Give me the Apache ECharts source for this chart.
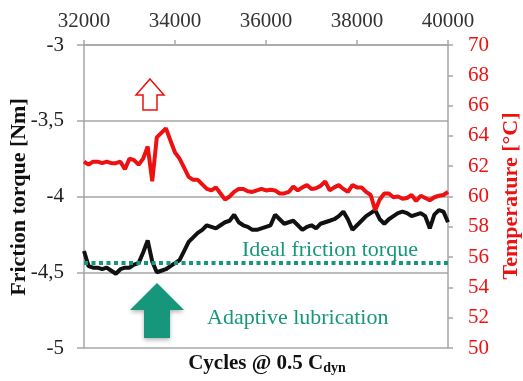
<!DOCTYPE html>
<html><head><meta charset="utf-8">
<script src="https://cdn.jsdelivr.net/npm/echarts@6/dist/echarts.min.js"></script>
<style>html,body{margin:0;padding:0;background:#fff}#c{width:523px;height:381px}</style>
</head><body><div id="c"></div>
<script>
var cycles = [];
for (var c = 32000; c <= 40000; c += 100) cycles.push(c);

var torque = [
 -4.36,-4.46,-4.47,-4.47,-4.48,-4.47,-4.49,-4.51,-4.48,-4.47,
 -4.47,-4.45,-4.44,-4.37,-4.29,-4.43,-4.50,-4.49,-4.48,-4.46,
 -4.44,-4.42,-4.36,-4.30,-4.27,-4.24,-4.22,-4.19,-4.20,-4.21,
 -4.19,-4.17,-4.16,-4.12,-4.17,-4.19,-4.20,-4.22,-4.22,-4.21,
 -4.20,-4.19,-4.12,-4.15,-4.18,-4.17,-4.16,-4.19,-4.22,-4.20,
 -4.19,-4.21,-4.18,-4.17,-4.16,-4.15,-4.13,-4.10,-4.15,-4.22,
 -4.19,-4.16,-4.13,-4.11,-4.09,-4.15,-4.18,-4.15,-4.13,-4.11,
 -4.10,-4.11,-4.13,-4.12,-4.11,-4.13,-4.21,-4.12,-4.09,-4.10,
 -4.17
];

var temperature = [
 62.3,62.1,62.3,62.3,62.2,62.3,62.2,62.2,62.3,61.8,
 62.5,62.4,62.1,62.5,63.3,61.0,63.9,64.2,64.5,63.7,
 62.9,62.5,61.9,61.3,61.1,61.1,60.8,60.5,60.4,60.6,
 60.2,59.8,60.0,60.3,60.5,60.5,60.35,60.3,60.4,60.5,
 60.4,60.45,60.4,60.2,60.2,60.3,60.65,60.4,60.6,60.75,
 60.5,60.55,60.7,61.0,60.4,60.6,60.75,60.5,60.3,60.75,
 60.6,60.6,60.3,60.1,59.1,59.8,60.2,60.2,59.95,60.0,
 59.85,59.9,60.1,59.7,60.05,59.9,59.75,59.95,60.05,60.1,
 60.3
];

var idealTorque = -4.44;
var xTicks = [32000, 34000, 36000, 38000, 40000];
var torqueTicks = [-5, -4.5, -4, -3.5, -3];
var tempTicks = [50, 52, 54, 56, 58, 60, 62, 64, 66, 68, 70];

function pairs(xs, ys) { return xs.map(function (x, i) { return [x, ys[i]]; }); }

var SERIF = 'Liberation Serif';
var TEAL = '#16977b';
var RED = '#ee1111';
var GRAY = '#a6a6a6';

var chart = echarts.init(document.getElementById('c'), null, {renderer: 'canvas'});
chart.setOption({
  animation: false,
  backgroundColor: '#fff',
  grid: {left: 84, right: 75, top: 45, bottom: 33},
  xAxis: {
    type: 'value', position: 'top',
    min: xTicks[0], max: xTicks[xTicks.length - 1], interval: 2000,
    axisLine: {show: true, lineStyle: {color: GRAY, width: 1.5}},
    axisTick: {show: true, inside: false, length: 5, lineStyle: {color: GRAY, width: 1.5}},
    axisLabel: {fontFamily: SERIF, fontSize: 21, color: '#333', margin: 13,
      formatter: function (v) { return String(v); }},
    splitLine: {show: false}
  },
  yAxis: [{
    type: 'value', position: 'left',
    min: torqueTicks[0], max: torqueTicks[torqueTicks.length - 1], interval: 0.5,
    axisLine: {show: true, lineStyle: {color: GRAY, width: 1.5}},
    axisTick: {show: true, length: 7, lineStyle: {color: GRAY, width: 1.5}},
    axisLabel: {fontFamily: SERIF, fontSize: 21, color: '#222', margin: 20,
      formatter: function (v) { return String(v).replace('.', ','); }},
    splitLine: {show: true, lineStyle: {color: GRAY, width: 1.5}}
  }, {
    type: 'value', position: 'right',
    min: tempTicks[0], max: tempTicks[tempTicks.length - 1], interval: 2,
    axisLine: {show: true, lineStyle: {color: GRAY, width: 1.5}},
    axisTick: {show: true, length: 5, lineStyle: {color: GRAY, width: 1.5}},
    axisLabel: {fontFamily: SERIF, fontSize: 21, color: RED, margin: 20},
    splitLine: {show: false}
  }],
  series: [{
    name: 'Friction torque', type: 'line', yAxisIndex: 0,
    data: pairs(cycles, torque), showSymbol: false, symbol: 'none',
    lineStyle: {color: '#111', width: 4}, z: 3,
    markLine: {
      silent: true, symbol: ['none', 'none'], label: {show: false},
      lineStyle: {color: TEAL, width: 4, type: [4, 3.5]},
      data: [{yAxis: idealTorque}]
    }
  }, {
    name: 'Temperature', type: 'line', yAxisIndex: 1,
    data: pairs(cycles, temperature), showSymbol: false, symbol: 'none',
    lineStyle: {color: RED, width: 4}, z: 4
  }],
  graphic: [
    {type: 'text', x: 19, y: 197, rotation: Math.PI / 2,
     style: {text: 'Friction torque [Nm]', fontFamily: SERIF, fontSize: 22, fontWeight: 'bold', fill: '#111', align: 'center', verticalAlign: 'middle'}},
    {type: 'text', x: 511, y: 196, rotation: Math.PI / 2,
     style: {text: 'Temperature [°C]', fontFamily: SERIF, fontSize: 22, fontWeight: 'bold', fill: RED, align: 'center', verticalAlign: 'middle'}},
    {type: 'text', x: 267, y: 364,
     style: {text: '{a|Cycles @ 0.5 C}{b|dyn}', align: 'center', verticalAlign: 'middle',
       rich: {a: {fontFamily: SERIF, fontSize: 21, fontWeight: 'bold', fill: '#111'},
              b: {fontFamily: SERIF, fontSize: 14, fontWeight: 'bold', fill: '#111', padding: [9, 0, 0, 0]}}}},
    {type: 'text', x: 242, y: 250,
     style: {text: 'Ideal friction torque', fontFamily: SERIF, fontSize: 22, fill: TEAL, align: 'left', verticalAlign: 'middle'}},
    {type: 'text', x: 207, y: 318,
     style: {text: 'Adaptive lubrication', fontFamily: SERIF, fontSize: 22, fill: TEAL, align: 'left', verticalAlign: 'middle'}},
    {type: 'polygon', shape: {points: [[150, 79], [164, 95], [157, 95], [157, 110], [143, 110], [143, 95], [136, 95]]},
     style: {fill: '#fff', stroke: RED, lineWidth: 1.5}},
    {type: 'polygon', shape: {points: [[157, 283], [184, 310], [170, 310], [170, 338], [144, 338], [144, 310], [130, 310]]},
     style: {fill: TEAL, shadowBlur: 4, shadowColor: 'rgba(0,0,0,0.3)', shadowOffsetY: 2}}
  ]
});
</script></body></html>
